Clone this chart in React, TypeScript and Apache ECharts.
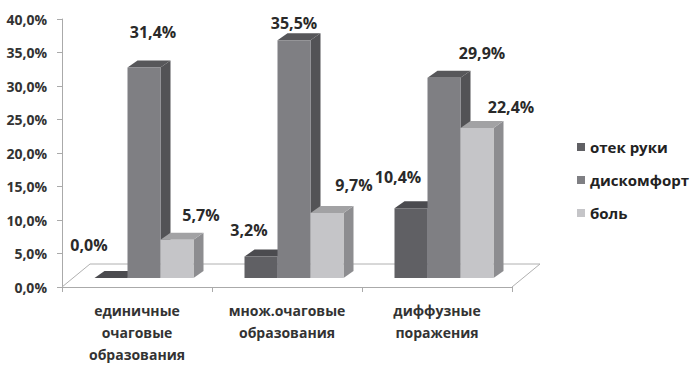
import React, { useEffect, useRef } from "react";
import * as echarts from "echarts";

const categories = ["единичные очаговые образования", "множ.очаговые образования", "диффузные поражения"];
const seriesNames = ["отек руки", "дискомфорт", "боль"];
const swelling = [0.0, 3.2, 10.4];
const discomfort = [31.4, 35.5, 29.9];
const pain = [5.7, 9.7, 22.4];
const yMin = 0;
const yMax = 40;
const yStep = 5;

// label offsets (dx, dy) from each bar's top-front centre
const swellingLabelOffsets = [[-22, -33], [-12, -27], [-13, -31]];
const discomfortLabelOffsets = [[9, -36], [0, -17], [38, -25]];
const painLabelOffsets = [[24, -25], [27, -28], [34, -21]];

const FONT = "'Open Sans', sans-serif";

const palettes = [
  { front: "#606064", top: "#4b4b4f", side: "#48484c" },
  { front: "#7f7f83", top: "#57575a", side: "#535356" },
  { front: "#c5c5c8", top: "#a2a2a4", side: "#8d8d90" },
];

const BAR_W = 33;
const DX = 10;
const DY = -7;
const BASE_SHIFT = -9;
const GROUP_SHIFT = 7;

const fmt = (v: number) => v.toFixed(1).replace(".", ",") + "%";

function barSeries(k: number, values: number[], offsets: number[][]) {
  const pal = palettes[k];
  return {
    type: "custom",
    name: seriesNames[k],
    itemStyle: { color: pal.front },
    clip: false,
    z: 3 + k,
    encode: { x: 0, y: 1 },
    data: values.map((v, i) => [i, v]),
    renderItem: (params: any, api: any) => {
      const ci = api.value(0);
      const v = api.value(1);
      const p0 = api.coord([ci, 0]);
      const pv = api.coord([ci, v]);
      const cx = p0[0] + GROUP_SHIFT + (k - 1) * BAR_W;
      const x0 = cx - BAR_W / 2;
      const x1 = cx + BAR_W / 2;
      const yb = p0[1] + BASE_SHIFT;
      const yt = yb - (p0[1] - pv[1]);
      const off = offsets[params.dataIndex];
      return {
        type: "group",
        children: [
          {
            type: "polygon",
            shape: { points: [[x1, yt], [x1 + DX, yt + DY], [x1 + DX, yb + DY], [x1, yb]] },
            style: { fill: pal.side },
          },
          {
            type: "polygon",
            shape: { points: [[x0, yt], [x0 + DX, yt + DY], [x1 + DX, yt + DY], [x1, yt]] },
            style: { fill: pal.top },
          },
          {
            type: "rect",
            shape: { x: x0, y: yt, width: BAR_W, height: yb - yt },
            style: { fill: pal.front },
          },
          {
            type: "text",
            x: cx + off[0],
            y: yt + off[1],
            style: {
              text: fmt(v),
              fill: "#2a2a2a",
              font: `bold 16px ${FONT}`,
              align: "center",
              verticalAlign: "middle",
            },
          },
        ],
      };
    },
  };
}

export default function App() {
  const ref = useRef<HTMLDivElement>(null);
  useEffect(() => {
    if (!ref.current) return;
    const chart = echarts.init(ref.current, undefined, { renderer: "svg" });
    chart.setOption({
      animation: false,
      backgroundColor: "#ffffff",
      grid: { left: 62, top: 19, width: 450, height: 272 },
      legend: {
        orient: "vertical",
        left: 572,
        top: 133,
        icon: "rect",
        itemWidth: 8,
        itemHeight: 8,
        itemGap: 15,
        textStyle: { fontFamily: FONT, fontWeight: "bold", fontSize: 15, color: "#222", lineHeight: 18 },
        data: seriesNames,
      },
      xAxis: {
        type: "category",
        data: categories,
        axisLine: { lineStyle: { color: "#aaaaaa", width: 1 } },
        axisTick: { show: true, length: 5, lineStyle: { color: "#aaaaaa" } },
        axisLabel: {
          interval: 0,
          margin: 12,
          fontFamily: FONT,
          fontWeight: "bold",
          fontSize: 14,
          color: "#333",
          lineHeight: 22,
          formatter: (s: string) => s.split(" ").join("\n"),
        },
        splitLine: { show: false },
      },
      yAxis: {
        type: "value",
        min: yMin,
        max: yMax,
        interval: yStep,
        axisLine: { show: true, lineStyle: { color: "#aaaaaa" } },
        axisTick: { show: true, length: 5, lineStyle: { color: "#aaaaaa" } },
        splitLine: { show: false },
        axisLabel: {
          margin: 15,
          fontFamily: FONT,
          fontWeight: "bold",
          fontSize: 14,
          color: "#333",
          formatter: (v: number) => fmt(v),
        },
      },
      series: [
        {
          type: "custom",
          name: "floor",
          silent: true,
          clip: false,
          z: 1,
          data: [[0, 0]],
          encode: { x: 0, y: 1 },
          renderItem: (params: any, api: any) => {
            const cs = params.coordSys;
            const yb = cs.y + cs.height;
            const xl = cs.x;
            const xr = cs.x + cs.width;
            return {
              type: "polyline",
              shape: { points: [[xl, yb], [xl + 28, yb - 23], [xr + 28, yb - 23], [xr, yb]] },
              style: { stroke: "#b0b0b0", lineWidth: 1, fill: "none" },
            };
          },
        },
        barSeries(0, swelling, swellingLabelOffsets),
        barSeries(1, discomfort, discomfortLabelOffsets),
        barSeries(2, pain, painLabelOffsets),
      ],
    });
    return () => chart.dispose();
  }, []);
  return <div ref={ref} style={{ position: "fixed", left: 0, top: 0, width: 700, height: 365 }} />;
}
